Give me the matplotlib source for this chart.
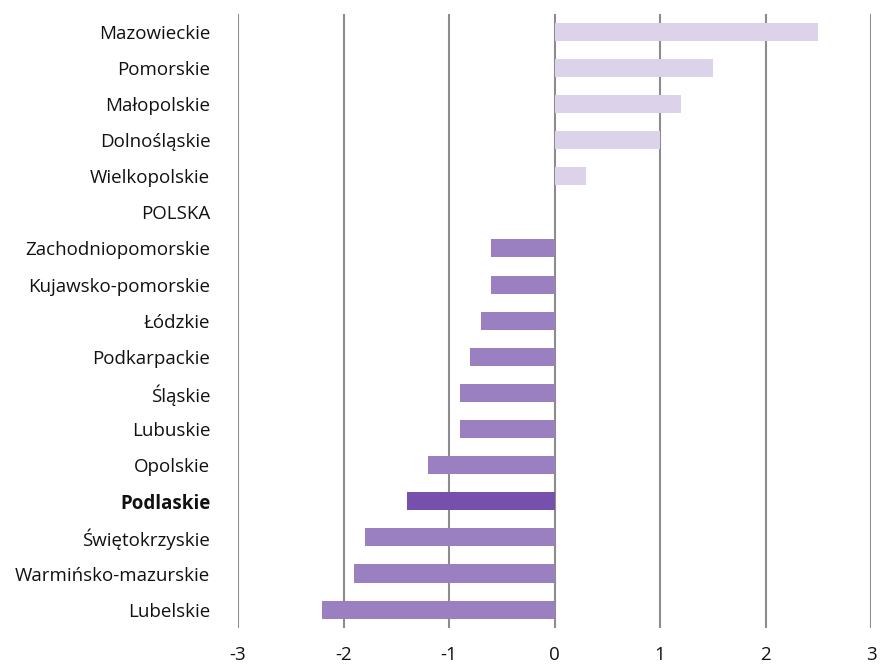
import matplotlib.pyplot as plt

plt.rcParams['font.family'] = ['Open Sans', 'DejaVu Sans']

regiony = ['Mazowieckie', 'Pomorskie', 'Małopolskie', 'Dolnośląskie', 'Wielkopolskie',
           'POLSKA', 'Zachodniopomorskie', 'Kujawsko-pomorskie', 'Łódzkie', 'Podkarpackie',
           'Śląskie', 'Lubuskie', 'Opolskie', 'Podlaskie', 'Świętokrzyskie',
           'Warmińsko-mazurskie', 'Lubelskie']
wartosci = [2.5, 1.5, 1.2, 1.0, 0.3, 0.0, -0.6, -0.6, -0.7, -0.8, -0.9, -0.9, -1.2, -1.4,
            -1.8, -1.9, -2.2]
wyrozniony = 'Podlaskie'
ticki = [-3, -2, -1, 0, 1, 2, 3]

kolory = []
for r, v in zip(regiony, wartosci):
    if r == wyrozniony:
        kolory.append('#7550ac')
    elif v > 0:
        kolory.append('#dcd3ea')
    else:
        kolory.append('#9a7fc1')

fig = plt.figure(figsize=(8.8, 6.66), dpi=100)
ax = fig.add_axes([0.2705, 0.0575, 0.7193, 0.922])

pos = list(range(len(regiony)))
ax.barh(pos, wartosci, height=0.5, color=kolory, zorder=3)

ax.set_xlim(-3, 3)
ax.set_ylim(len(regiony) - 0.5, -0.5)
ax.set_xticks(ticks=ticki, labels=[str(t) for t in ticki])
ax.set_yticks(pos)
ax.set_yticklabels(regiony)
for lbl in ax.get_yticklabels():
    if lbl.get_text() == wyrozniony:
        lbl.set_fontweight('bold')

ax.grid(axis='x', color='#8c8c8c', linewidth=1.5, zorder=0)
ax.grid(axis='y', visible=False)
for s in ax.spines.values():
    s.set_visible(False)
ax.tick_params(axis='both', length=0, labelsize=13.5, colors='#111111')
ax.tick_params(axis='y', pad=20)
ax.tick_params(axis='x', pad=13)

fig.savefig('out.png', dpi=100)
